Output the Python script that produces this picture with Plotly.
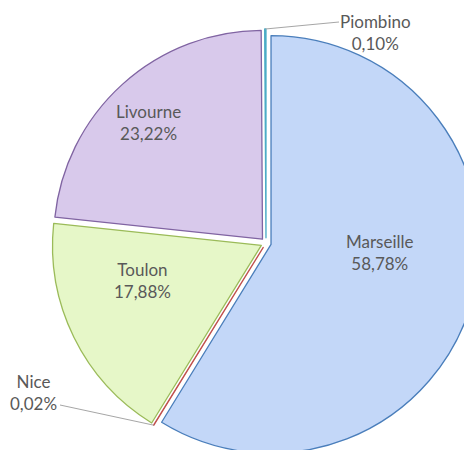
import math
import plotly.graph_objects as go

# ---- data ----
ports = ["Marseille", "Nice", "Toulon", "Livourne", "Piombino"]
shares = [58.78, 0.02, 17.88, 23.22, 0.10]
fill_colors = ["#c3d7f8", "#c0504d", "#e6f7c8", "#d8c9eb", "#4bacc6"]
line_colors = ["#4a7ebb", "#c0504d", "#9bbb59", "#8064a2", "#4bacc6"]

W, H = 472, 450
PULL = 0.025
# pie square in figure pixels
X0, X1 = 44, 472
Y0, Y1 = 21, 449

pct_text = [f"{v:.2f}".replace(".", ",") + "%" for v in shares]

fig = go.Figure()

fig.add_trace(
    go.Pie(
        labels=ports,
        values=shares,
        textinfo="none",
        sort=False,
        direction="clockwise",
        rotation=0,
        pull=PULL,
        marker=dict(colors=fill_colors, line=dict(color=line_colors, width=1.3)),
        domain=dict(x=[X0 / W, X1 / W], y=[1 - Y1 / H, 1 - Y0 / H]),
        showlegend=False,
        hoverinfo="label+percent",
    )
)

cx, cy = (X0 + X1) / 2, (Y0 + Y1) / 2
r = min(X1 - X0, Y1 - Y0) / 2 / (1 + PULL)
total = sum(shares)


def to_paper(px, py):
    return px / W, 1 - py / H


# label placement (figure pixels); tiny slices get a leader line to an elbow
label_spots = {
    "Marseille": dict(text=(372, 244)),
    "Toulon": dict(text=(134, 272)),
    "Livourne": dict(text=(140, 115)),
    "Piombino": dict(elbow=(331, 14), text=(367, 24)),
    "Nice": dict(elbow=(52, 397), text=(25, 384)),
}

cum = 0
for name, v, label_txt in zip(ports, shares, pct_text):
    mid = (cum + v / 2) / total * 2 * math.pi
    cum += v
    spot = label_spots[name]
    if "elbow" in spot:
        px = cx + r * (1 + PULL) * math.sin(mid)
        py = cy - r * (1 + PULL) * math.cos(mid)
        x_a, y_a = to_paper(px, py)
        x_b, y_b = to_paper(*spot["elbow"])
        fig.add_shape(
            type="line", xref="paper", yref="paper",
            x0=x_a, y0=y_a, x1=x_b, y1=y_b,
            line=dict(color="#a6a6a6", width=1),
        )
    tx, ty = to_paper(*spot["text"])
    fig.add_annotation(
        x=tx, y=ty, xref="paper", yref="paper",
        text=f"{name}<br>{label_txt}",
        showarrow=False, xanchor="center", yanchor="middle",
        font=dict(color="#595959", size=17),
    )

fig.update_layout(
    width=W,
    height=H,
    margin=dict(l=0, r=0, t=0, b=0),
    paper_bgcolor="white",
    font=dict(family="Lato, sans-serif", color="#595959", size=17),
)

fig.write_html("out.html")
